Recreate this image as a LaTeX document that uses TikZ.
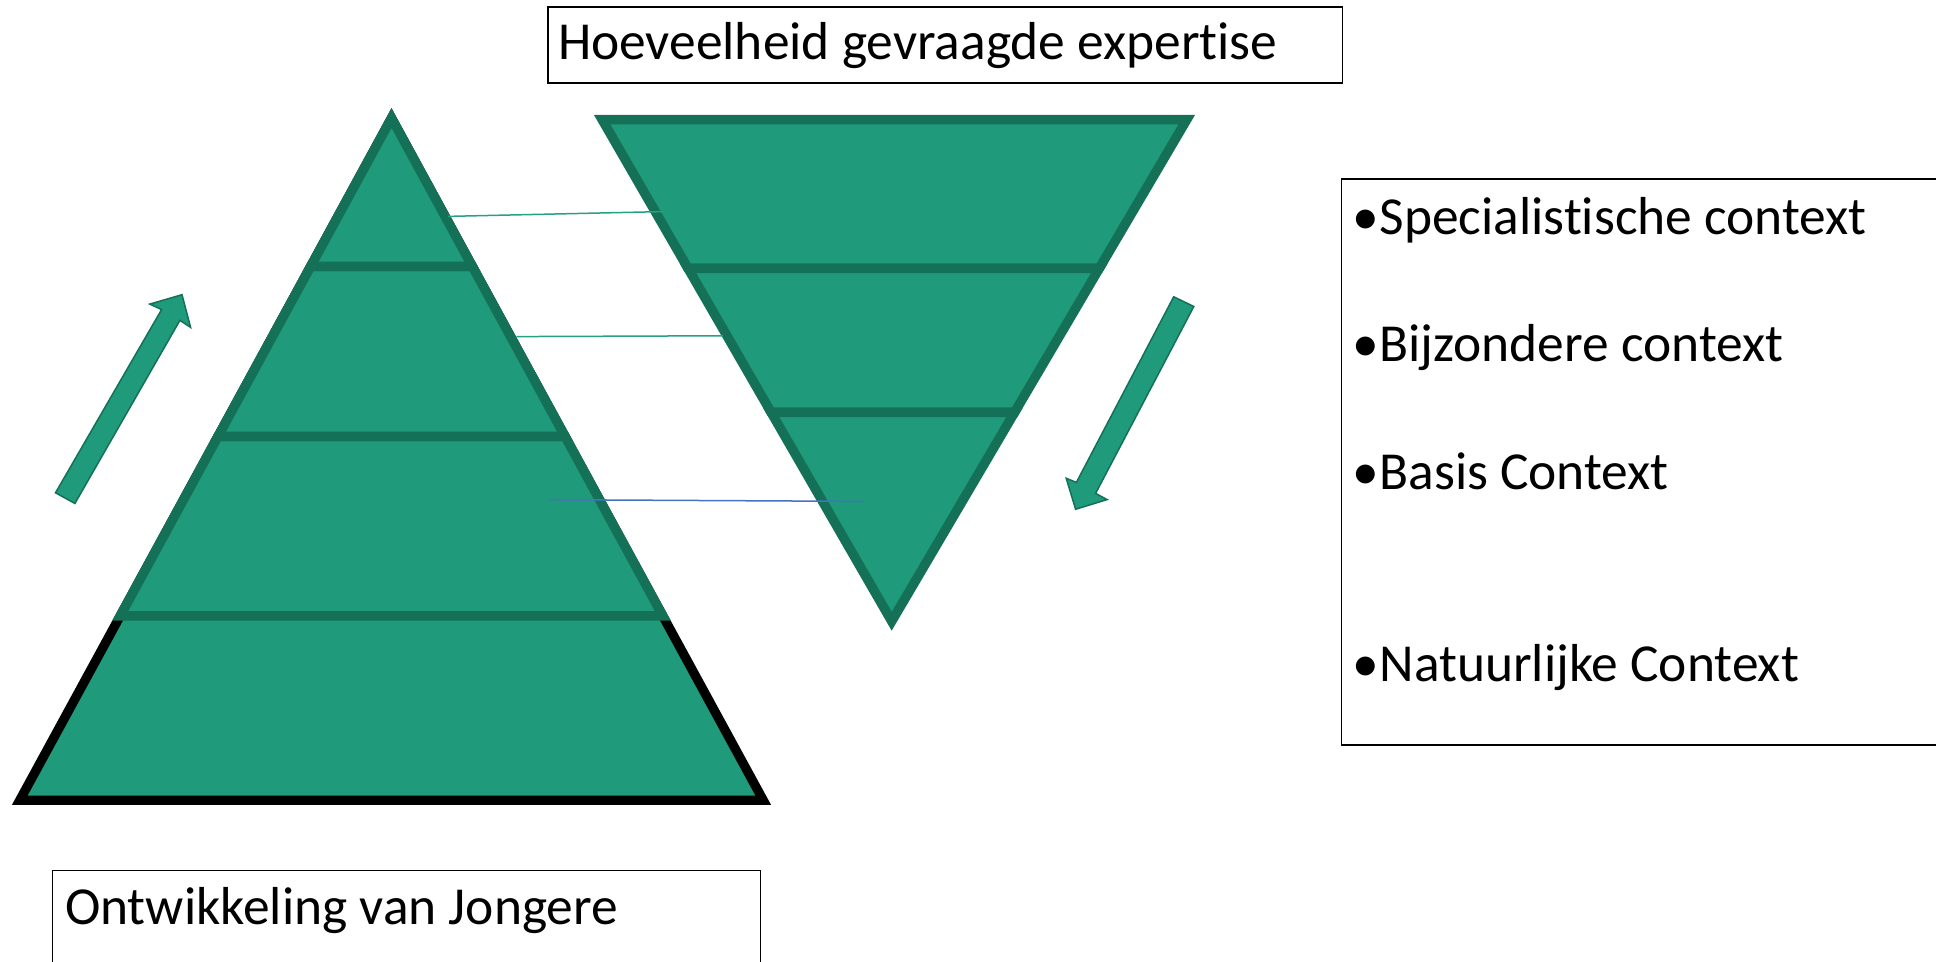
\documentclass[tikz,border=0pt]{standalone}
\usepackage{fontspec}
\setmainfont{Carlito}[Ligatures=NoCommon]
\definecolor{fillgreen}{RGB}{31,154,122}
\definecolor{darkgreen}{RGB}{20,113,87}
\definecolor{tealline}{RGB}{40,160,130}
\definecolor{lineblue}{RGB}{68,114,196}
\begin{document}
\begin{tikzpicture}[x=0.01cm,y=-0.01cm,
  seg/.style={fill=fillgreen, draw=darkgreen, line width=0.95mm, line join=miter, miter limit=10},
  bigtri/.style={fill=fillgreen, draw=black, line width=0.93mm, line join=miter, miter limit=10},
  blockarrow/.style={fill=fillgreen, draw=darkgreen, line width=0.15mm, line join=miter},
  box/.style={draw=black, line width=0.18mm, inner sep=0pt, outer sep=0pt, anchor=north west},
  txt/.style={anchor=base west, inner sep=0pt, outer sep=0pt, font=\fontsize{15.2pt}{18pt}\selectfont},
  link/.style={draw=tealline, line width=0.15mm},
  bluelink/.style={draw=lineblue, line width=0.15mm}]
\useasboundingbox (0,0) rectangle (1936,962);
\clip (0,0) rectangle (1936,962);

% ---------- left pyramid ----------
\coordinate (LA)  at (391.5,118);
\coordinate (LBL) at (19.7,800.35);
\coordinate (LBR) at (763.3,800.35);
\coordinate (L1l) at (310.6,266.5);
\coordinate (L1r) at (472.4,266.5);
\coordinate (L2l) at (217.9,436.5);
\coordinate (L2r) at (565.1,436.5);
\coordinate (L3l) at (120.1,616);
\coordinate (L3r) at (662.9,616);
\draw[bigtri] (LA) -- (LBR) -- (LBL) -- cycle;
\draw[seg] (L2l) -- (L2r) -- (L3r) -- (L3l) -- cycle;
\draw[seg] (L1l) -- (L1r) -- (L2r) -- (L2l) -- cycle;
\draw[seg] (LA) -- (L1r) -- (L1l) -- cycle;

% ---------- inverted pyramid ----------
\coordinate (ITL) at (602.2,119.75);
\coordinate (ITR) at (1186.7,119.75);
\coordinate (IB)  at (891.7,621.25);
\coordinate (I1l) at (688.1,268.5);
\coordinate (I1r) at (1099.2,268.5);
\coordinate (I2l) at (771.1,412.3);
\coordinate (I2r) at (1014.6,412.3);
\draw[seg] (ITL) -- (ITR) -- (I1r) -- (I1l) -- cycle;
\draw[seg] (I1l) -- (I1r) -- (I2r) -- (I2l) -- cycle;
\draw[seg] (I2l) -- (I2r) -- (IB) -- cycle;

% ---------- thin connectors ----------
\coordinate (k1a) at (448,216.4);
\coordinate (k1b) at (663.5,211.6);
\coordinate (k2a) at (516.3,336.6);
\coordinate (k2b) at (722.8,335.8);
\coordinate (k3a) at (548.4,499.7);
\coordinate (k3b) at (863.8,501.4);
\draw[link] (k1a) -- (k1b);
\draw[link] (k2a) -- (k2b);
\draw[bluelink] (k3a) -- (k3b);

% ---------- block arrows ----------
\coordinate (ua1) at (55.5,492.8);
\coordinate (ua2) at (74.9,503.5);
\coordinate (ua3) at (179.9,320.4);
\coordinate (ua4) at (190.6,327.4);
\coordinate (ua5) at (182,294.7);
\coordinate (ua6) at (149.8,304.1);
\coordinate (ua7) at (161.6,309.6);
\draw[blockarrow] (ua1) -- (ua2) -- (ua3) -- (ua4) -- (ua5) -- (ua6) -- (ua7) -- cycle;

\coordinate (da1) at (1173.7,296.8);
\coordinate (da2) at (1193.8,306.5);
\coordinate (da3) at (1095.6,493.4);
\coordinate (da4) at (1107.1,499.6);
\coordinate (da5) at (1075.6,509.3);
\coordinate (da6) at (1066.2,478.3);
\coordinate (da7) at (1076.4,482.4);
\draw[blockarrow] (da1) -- (da2) -- (da3) -- (da4) -- (da5) -- (da6) -- (da7) -- cycle;

% ---------- text boxes ----------
\node[box, minimum width=79.4mm, minimum height=7.53mm] (topbox) at (548,7.4) {};
\node[txt] (toptext) at (558,60) {Hoeveelheid gevraagde expertise};

\node[box, minimum width=61mm, minimum height=56.5mm] (listbox) at (1341.5,179.4) {};
\node[txt] (li1) at (1352,234.7) {\makebox[2.75mm][l]{•}Specialistische context};
\node[txt] (li2) at (1352,361.7) {\makebox[2.75mm][l]{•}Bijzondere context};
\node[txt] (li3) at (1352,489.5) {\makebox[2.75mm][l]{•}Basis Context};
\node[txt] (li4) at (1352,681.3) {\makebox[2.75mm][l]{•}Natuurlijke Context};

\node[box, minimum width=70.75mm, minimum height=10.5mm] (botbox) at (52.5,870.5) {};
\node[txt] (bottext) at (65,925) {Ontwikkeling van Jongere};
\end{tikzpicture}
\end{document}
